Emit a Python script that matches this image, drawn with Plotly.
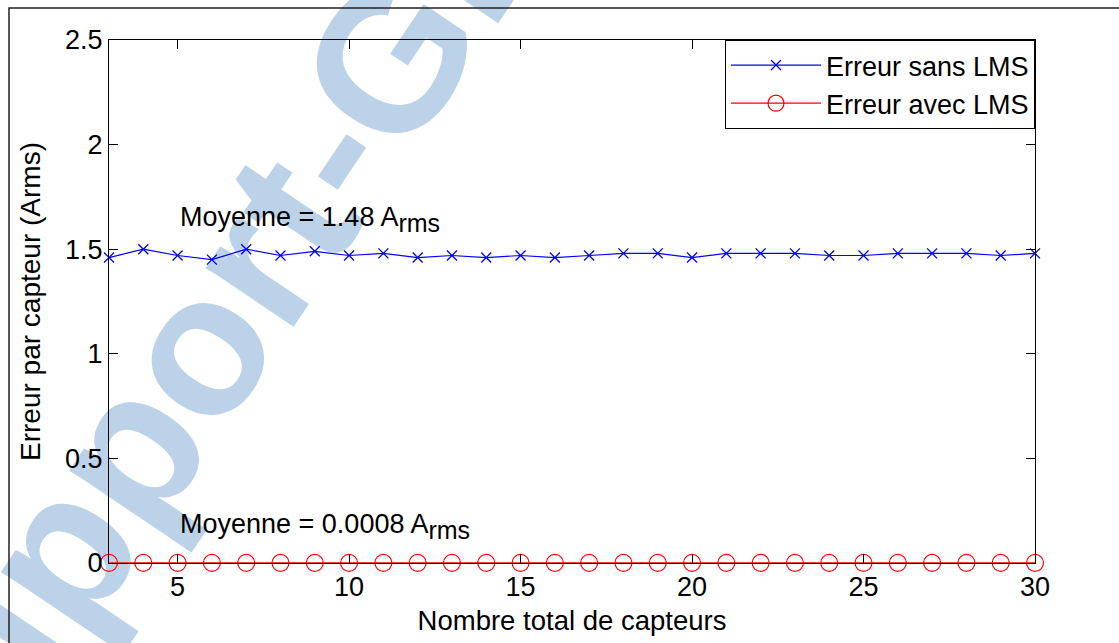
import base64
import plotly.graph_objects as go

# Données
capteurs = [3, 4, 5, 6, 7, 8, 9, 10, 11, 12, 13, 14, 15, 16,
            17, 18, 19, 20, 21, 22, 23, 24, 25, 26, 27, 28, 29, 30]
erreur_sans_lms = [1.46, 1.50, 1.47, 1.45, 1.50, 1.47, 1.49, 1.47, 1.48, 1.46,
                   1.47, 1.46, 1.47, 1.46, 1.47, 1.48, 1.48, 1.46, 1.48, 1.48,
                   1.48, 1.47, 1.47, 1.48, 1.48, 1.48, 1.47, 1.48]
erreur_avec_lms = [0.0008, 0.0008, 0.0008, 0.0008, 0.0008, 0.0008, 0.0008,
                   0.0008, 0.0008, 0.0008, 0.0008, 0.0008, 0.0008, 0.0008,
                   0.0008, 0.0008, 0.0008, 0.0008, 0.0008, 0.0008, 0.0008,
                   0.0008, 0.0008, 0.0008, 0.0008, 0.0008, 0.0008, 0.0008]
moyenne_sans = 1.48
moyenne_avec = 0.0008
x_ticks = [5, 10, 15, 20, 25, 30]
y_ticks = [0, 0.5, 1, 1.5, 2, 2.5]

W, H = 1119, 643
ML, MR, MT, MB = 109, 84, 40, 80
PW, PH = W - ML - MR, H - MT - MB
FONT = "Liberation Sans, Arial, Helvetica, sans-serif"

# Filigrane en arrière-plan
svg = (
    f'<svg xmlns="http://www.w3.org/2000/svg" width="{W}" height="{H}" '
    f'viewBox="0 0 {W} {H}">'
    '<text x="0" y="0" transform="translate(-62,854) rotate(-56)" '
    'font-family="Liberation Sans, Arial, sans-serif" font-weight="bold" '
    'font-size="200" fill="#bcd2e8">Support-GI</text></svg>'
)
svg_uri = "data:image/svg+xml;base64," + base64.b64encode(svg.encode()).decode()

fig = go.Figure()
fig.add_trace(go.Scatter(
    x=capteurs, y=erreur_sans_lms, name="Erreur sans LMS",
    mode="lines+markers", cliponaxis=False,
    line=dict(color="#0000ff", width=1.2),
    marker=dict(symbol="x-thin", size=10, line=dict(color="#0000ff", width=1.3)),
))
fig.add_trace(go.Scatter(
    x=capteurs, y=erreur_avec_lms, name="Erreur avec LMS",
    mode="lines+markers", cliponaxis=False,
    line=dict(color="#ff0000", width=1.2),
    marker=dict(symbol="circle-open", size=17, color="#ff0000",
                line=dict(color="#ff0000", width=1.2)),
))

axis_common = dict(
    showline=True, linecolor="black", linewidth=1, mirror="allticks",
    ticks="inside", ticklen=9, tickwidth=1, tickcolor="black",
    showgrid=False, zeroline=False,
    tickfont=dict(family=FONT, size=27, color="black"),
)
fig.update_xaxes(range=[3, 30], tickvals=x_ticks,
                 title=dict(text="Nombre total de capteurs", standoff=9,
                            font=dict(family=FONT, size=27.5, color="black")),
                 **axis_common)
fig.update_yaxes(range=[0, 2.5], tickvals=y_ticks,
                 title=dict(text="Erreur par capteur (Arms)", standoff=16,
                            font=dict(family=FONT, size=28, color="black")),
                 **axis_common)

SUB = "<sub><span style='font-size:25px'>rms</span></sub>"
fig.add_annotation(x=5, y=1.64, xref="x", yref="y", xanchor="left", yanchor="middle",
                   text=f"Moyenne = {moyenne_sans:.2f} A{SUB}", showarrow=False,
                   font=dict(family=FONT, size=27, color="black"))
fig.add_annotation(x=5, y=0.175, xref="x", yref="y", xanchor="left", yanchor="middle",
                   text=f"Moyenne = {moyenne_avec:.4f} A{SUB}", showarrow=False,
                   font=dict(family=FONT, size=27, color="black"))

# Cadre de la figure
fig.add_shape(type="rect", xref="paper", yref="paper",
              x0=(9 - ML) / PW, x1=(W + 20 - ML) / PW,
              y0=-(MB + 20) / PH, y1=1 + (MT - 8) / PH,
              line=dict(color="#222222", width=1.5), layer="above")

fig.add_layout_image(source=svg_uri, xref="paper", yref="paper",
                     x=-ML / PW, y=1 + MT / PH, sizex=W / PW, sizey=H / PH,
                     xanchor="left", yanchor="top", sizing="stretch", layer="below")

fig.update_layout(
    width=W, height=H,
    margin=dict(l=ML, r=MR, t=MT, b=MB, pad=0),
    paper_bgcolor="white", plot_bgcolor="rgba(0,0,0,0)",
    font=dict(family=FONT, size=27, color="black"),
    showlegend=True,
    legend=dict(x=1, y=1, xanchor="right", yanchor="top",
                bgcolor="white", bordercolor="black", borderwidth=1,
                font=dict(family=FONT, size=27, color="black"),
                itemwidth=90, tracegroupgap=0),
)

fig.write_html("out.html")
